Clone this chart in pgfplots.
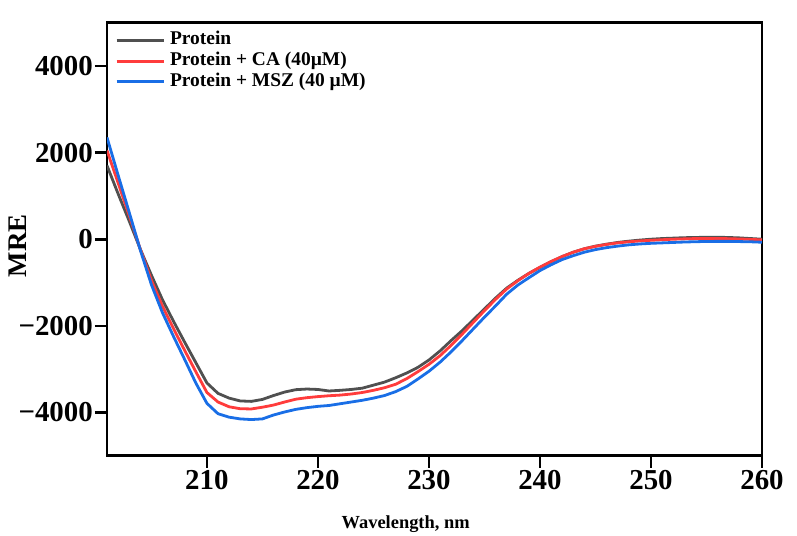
\documentclass[border=0pt]{standalone}
\usepackage{pgfplots}
\pgfplotsset{compat=1.18}
\usepackage{pgfplotstable}
\usepackage{fontspec}
\setmainfont{Liberation Serif}
\definecolor{cgray}{RGB}{80,80,80}
\definecolor{cred}{RGB}{255,60,60}
\definecolor{cblue}{RGB}{25,110,230}

\pgfplotstableread{
w gray red blue
201 1700 2050 2350
202 1050 1300 1480
203 420 550 620
204 -230 -230 -250
205 -830 -950 -1050
206 -1400 -1550 -1700
207 -1900 -2070 -2250
208 -2380 -2570 -2780
209 -2850 -3060 -3320
210 -3320 -3540 -3790
211 -3560 -3760 -4030
212 -3670 -3870 -4110
213 -3735 -3915 -4150
214 -3745 -3920 -4165
215 -3700 -3880 -4150
216 -3610 -3830 -4060
217 -3530 -3760 -3990
218 -3475 -3695 -3930
219 -3460 -3660 -3890
220 -3470 -3635 -3860
221 -3505 -3615 -3840
222 -3490 -3600 -3800
223 -3470 -3575 -3760
224 -3440 -3540 -3720
225 -3370 -3490 -3670
226 -3300 -3430 -3610
227 -3200 -3350 -3520
228 -3090 -3220 -3400
229 -2960 -3060 -3230
230 -2790 -2890 -3050
231 -2580 -2690 -2840
232 -2340 -2450 -2600
233 -2110 -2190 -2340
234 -1860 -1920 -2070
235 -1610 -1650 -1800
236 -1360 -1390 -1540
237 -1130 -1150 -1270
238 -950 -960 -1060
239 -790 -790 -890
240 -650 -645 -725
241 -520 -515 -590
242 -400 -400 -470
243 -300 -300 -380
244 -220 -220 -300
245 -160 -165 -240
246 -115 -120 -195
247 -75 -85 -160
248 -45 -60 -130
249 -20 -40 -110
250 0 -25 -95
251 15 -12 -85
252 25 0 -75
253 35 8 -65
254 40 15 -58
255 45 18 -52
256 45 18 -50
257 40 12 -50
258 30 5 -55
259 15 -5 -60
260 0 -15 -70
}\datatable

\begin{document}
\begin{tikzpicture}
\begin{axis}[
  scale only axis,
  width=655bp, height=433bp,
  xmin=201, xmax=260, ymin=-5000, ymax=5000,
  xtick={210,220,230,240,250,260},
  xticklabels={210,220,230,240,250,260},
  ytick={-4000,-2000,0,2000,4000},
  yticklabels={−4000,−2000,0,2000,4000},
  tick pos=left, tick align=outside,
  major tick length=12bp,
  axis line style={line width=2.6bp, black},
  every tick/.style={black, line width=2.6bp},
  ticklabel style={font=\fontsize{29}{31}\selectfont\bfseries},
  xticklabel style={inner sep=2bp},
  yticklabel style={inner sep=2bp},
  xlabel={Wavelength, nm},
  ylabel={MRE},
  xlabel style={font=\fontsize{18.5}{20}\selectfont\bfseries, at={(axis description cs:0.456,0)}, anchor=center, yshift=-68bp},
  ylabel style={font=\fontsize{27}{29}\selectfont\bfseries, at={(axis description cs:-0.137,0.485)}, anchor=center},
  legend style={at={(axis description cs:0.012,0.979)}, anchor=north west, draw=none, fill=none,
    font=\fontsize{19.5}{21}\selectfont\bfseries, row sep=3.7bp, inner sep=0pt,
    nodes={inner sep=0pt, text height=13bp, text depth=4bp}},
  legend cell align=left,
  legend image code/.code={\draw[#1, line width=3bp] (0bp,0bp) -- (47bp,0bp);},
  clip=true,
]
\addplot[cgray, line width=2.8bp, line join=round] table[x=w, y=gray] {\datatable};
\addlegendentry{\hspace{5bp}Protein}
\addplot[cred, line width=2.8bp, line join=round] table[x=w, y=red] {\datatable};
\addlegendentry{\hspace{5bp}Protein + CA (40µM)}
\addplot[cblue, line width=2.8bp, line join=round] table[x=w, y=blue] {\datatable};
\addlegendentry{\hspace{5bp}Protein + MSZ (40 µM)}
\end{axis}
\path ([shift={(-107bp,-80bp)}]current axis.south west) rectangle ([shift={(35bp,22.7bp)}]current axis.north east);
\end{tikzpicture}
\end{document}
